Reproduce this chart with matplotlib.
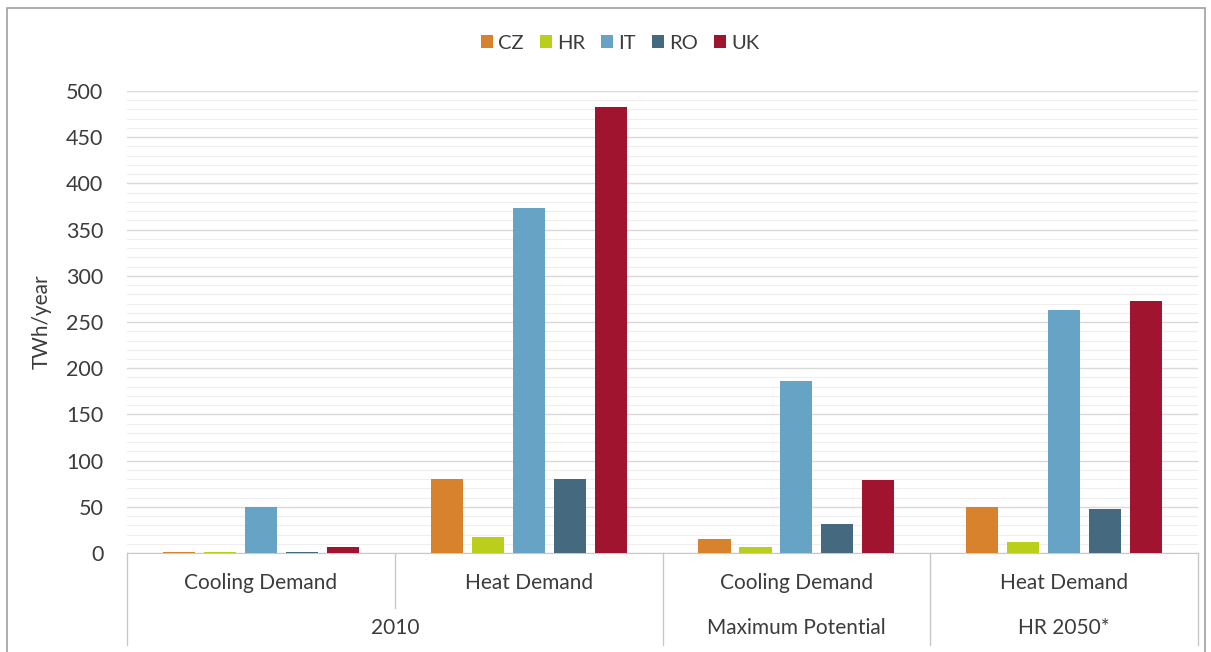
import numpy as np
import matplotlib.pyplot as plt
from matplotlib import patches
from matplotlib.transforms import blended_transform_factory

plt.rcParams['font.family'] = ['Lato', 'DejaVu Sans']

# data (TWh/year)
countries = ['CZ', 'HR', 'IT', 'RO', 'UK']
colors = ['#D8822E', '#B9CF1B', '#66A3C5', '#45697F', '#A1142F']
categories = ['Cooling Demand', 'Heat Demand', 'Cooling Demand', 'Heat Demand']
scenarios = ['2010', 'Maximum Potential', 'HR 2050*']
scenario_span = [(0, 1), (2, 2), (3, 3)]

cz = [1, 80, 15, 50]
hr = [1, 17, 6, 12]
it = [50, 373, 186, 263]
ro = [1, 80, 31, 48]
uk = [6, 483, 79, 273]
values = [cz, hr, it, ro, uk]

fig = plt.figure(figsize=(12.11, 6.52), dpi=100)
ax = fig.add_axes([0.1049, 0.1518, 0.8844, 0.7086])

x = np.arange(len(categories))
pitch = 0.153
width = 0.12
for i, (name, vals) in enumerate(zip(countries, values)):
    ax.bar(x + (i - 2) * pitch, vals, width, color=colors[i], label=name, zorder=3)

txt = '#3c3c3c'
ax.set_xlim(-0.5, 3.5)
ax.set_ylim(0, 500)
ax.set_yticks(np.arange(0, 501, 50))
ax.set_yticks(np.arange(0, 501, 10), minor=True)
ax.tick_params(axis='y', which='both', length=0, labelsize=15.5, colors=txt, pad=17)
ax.grid(axis='y', which='major', color='#d9d9d9', lw=1.0, zorder=0)
ax.grid(axis='y', which='minor', color='#eeeeee', lw=0.8, zorder=0)
ax.set_xticks([])
for s in ['top', 'right', 'left']:
    ax.spines[s].set_visible(False)
ax.spines['bottom'].set_color('#c8c8c8')
ax.set_ylabel('TWh/year', fontsize=15, color=txt, labelpad=10)

# two level category axis
tr = blended_transform_factory(ax.transData, ax.transAxes)
for xi, lab in zip(x, categories):
    ax.text(xi, -0.065, lab, transform=tr, ha='center', va='center', fontsize=15, color=txt)
for (a, b), lab in zip(scenario_span, scenarios):
    ax.text((a + b) / 2, -0.162, lab, transform=tr, ha='center', va='center', fontsize=15, color=txt)

long_lines = [-0.5, 1.5, 2.5, 3.5]
short_lines = [0.5]
for xs in long_lines:
    ax.plot([xs, xs], [0, -0.199], transform=tr, color='#c8c8c8', lw=1, clip_on=False)
for xs in short_lines:
    ax.plot([xs, xs], [0, -0.12], transform=tr, color='#c8c8c8', lw=1, clip_on=False)

leg = fig.legend(loc='center', bbox_to_anchor=(0.512, 0.934), ncol=5, frameon=False,
                 fontsize=14.5, handlelength=0.6, handleheight=0.6, handletextpad=0.25,
                 columnspacing=0.8)
for t in leg.get_texts():
    t.set_color(txt)

# outer frame
fig.add_artist(patches.Rectangle((0.006, -0.02), 0.989, 1.007, transform=fig.transFigure,
                                 fill=False, edgecolor='#a0a0a0', lw=1.2))

fig.savefig('out.png', dpi=100)
